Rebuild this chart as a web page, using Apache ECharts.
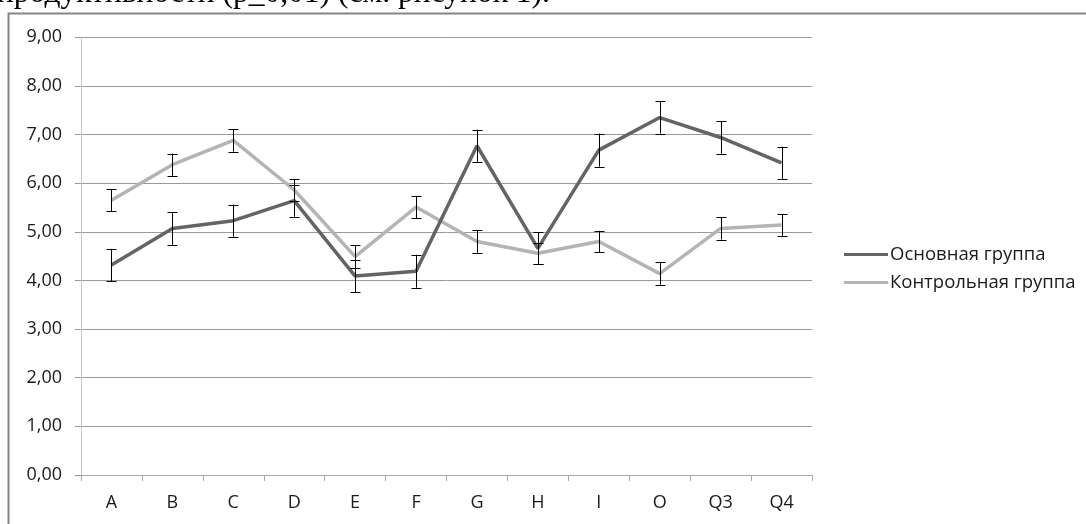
<!DOCTYPE html>
<html>
<head>
<meta charset="utf-8">
<script src="https://cdn.jsdelivr.net/npm/echarts@6/dist/echarts.min.js"></script>
<style>
  html, body { margin: 0; padding: 0; background: #fff; }
  #chart { width: 1086px; height: 524px; }
</style>
</head>
<body>
<div id="chart"></div>
<script>
// Categories along the x axis
const categories = ['A', 'B', 'C', 'D', 'E', 'F', 'G', 'H', 'I', 'O', 'Q3', 'Q4'];

// Group means
const mainGroup    = [4.32, 5.07, 5.23, 5.64, 4.09, 4.19, 6.77, 4.66, 6.68, 7.35, 6.94, 6.42];
const controlGroup = [5.65, 6.38, 6.88, 5.86, 4.49, 5.51, 4.80, 4.56, 4.80, 4.14, 5.07, 5.14];

// Half-width of each error bar
const mainError    = [0.33, 0.34, 0.33, 0.33, 0.33, 0.34, 0.33, 0.33, 0.34, 0.33, 0.33, 0.33];
const controlError = [0.23, 0.23, 0.23, 0.23, 0.23, 0.23, 0.23, 0.22, 0.22, 0.23, 0.23, 0.22];

// Value axis ticks
const yTicks = [0, 1, 2, 3, 4, 5, 6, 7, 8, 9];

const seriesNames = ['Основная группа', 'Контрольная группа'];
const headingText = 'продуктивности (р_0,01) (см. рисунок 1).';

const FONT = '"Open Sans", "Noto Sans", sans-serif';
const DARK = '#646464';
const LIGHT = '#b4b4b4';

function errorData(means, errs) {
  return means.map((m, i) => [i, m - errs[i], m + errs[i]]);
}

function renderErrorBar(params, api) {
  const lo = api.coord([api.value(0), api.value(1)]);
  const hi = api.coord([api.value(0), api.value(2)]);
  const x = Math.round(lo[0]) + 0.5;
  const half = 5;
  const style = { stroke: '#000', lineWidth: 1 };
  return {
    type: 'group',
    children: [
      { type: 'line', shape: { x1: x, y1: hi[1], x2: x, y2: lo[1] }, style },
      { type: 'line', shape: { x1: x - half, y1: Math.round(hi[1]) + 0.5, x2: x + half, y2: Math.round(hi[1]) + 0.5 }, style },
      { type: 'line', shape: { x1: x - half, y1: Math.round(lo[1]) + 0.5, x2: x + half, y2: Math.round(lo[1]) + 0.5 }, style }
    ]
  };
}

const chart = echarts.init(document.getElementById('chart'), null, { renderer: 'canvas' });

chart.setOption({
  animation: false,
  backgroundColor: '#fff',
  textStyle: { fontFamily: FONT },
  graphic: [
    {
      type: 'text',
      left: -3,
      top: -22,
      style: {
        text: headingText,
        font: '31.5px "Liberation Serif", "Times New Roman", serif',
        fill: '#000'
      }
    },
    {
      type: 'polyline',
      shape: { points: [[8.5, 530], [8.5, 13.5], [1090, 13.5]] },
      style: { stroke: '#858585', lineWidth: 2, fill: null }
    }
  ],
  grid: { left: 81, top: 37.3, right: 274, bottom: 49, containLabel: false },
  legend: {
    orient: 'vertical',
    left: 839,
    top: 240,
    itemWidth: 44,
    itemHeight: 3,
    itemGap: 9,
    icon: 'rect',
    textStyle: { fontFamily: FONT, fontSize: 18.5, color: '#1a1a1a', padding: [0, 0, 0, -3] },
    data: [
      { name: seriesNames[0], itemStyle: { color: DARK } },
      { name: seriesNames[1], itemStyle: { color: LIGHT } }
    ]
  },
  xAxis: {
    type: 'category',
    data: categories,
    boundaryGap: true,
    axisLine: { lineStyle: { color: '#a8a8a8', width: 1 } },
    axisTick: { show: true, length: 6, lineStyle: { color: '#a8a8a8' } },
    axisLabel: { fontFamily: FONT, fontSize: 18, color: '#1a1a1a', margin: 19 },
    splitLine: { show: false }
  },
  yAxis: {
    type: 'value',
    min: yTicks[0],
    max: yTicks[yTicks.length - 1],
    interval: 1,
    axisLine: { show: true, lineStyle: { color: '#c4c4c4', width: 1 } },
    axisTick: { show: true, length: 6, lineStyle: { color: '#9a9a9a' } },
    axisLabel: {
      fontFamily: FONT, fontSize: 18, color: '#1a1a1a', margin: 19,
      formatter: v => v.toFixed(2).replace('.', ',')
    },
    splitLine: { show: true, lineStyle: { color: '#9a9a9a', width: 1 } }
  },
  series: [
    {
      name: seriesNames[0],
      type: 'line',
      data: mainGroup,
      symbol: 'none',
      lineStyle: { color: DARK, width: 3.5 },
      itemStyle: { color: DARK },
      z: 3
    },
    {
      name: seriesNames[1],
      type: 'line',
      data: controlGroup,
      symbol: 'none',
      lineStyle: { color: LIGHT, width: 3.5 },
      itemStyle: { color: LIGHT },
      z: 2
    },
    {
      type: 'custom',
      name: 'err-main',
      data: errorData(mainGroup, mainError),
      renderItem: renderErrorBar,
      encode: { x: 0, y: [1, 2] },
      z: 5,
      silent: true
    },
    {
      type: 'custom',
      name: 'err-control',
      data: errorData(controlGroup, controlError),
      renderItem: renderErrorBar,
      encode: { x: 0, y: [1, 2] },
      z: 5,
      silent: true
    }
  ]
});
</script>
</body>
</html>
